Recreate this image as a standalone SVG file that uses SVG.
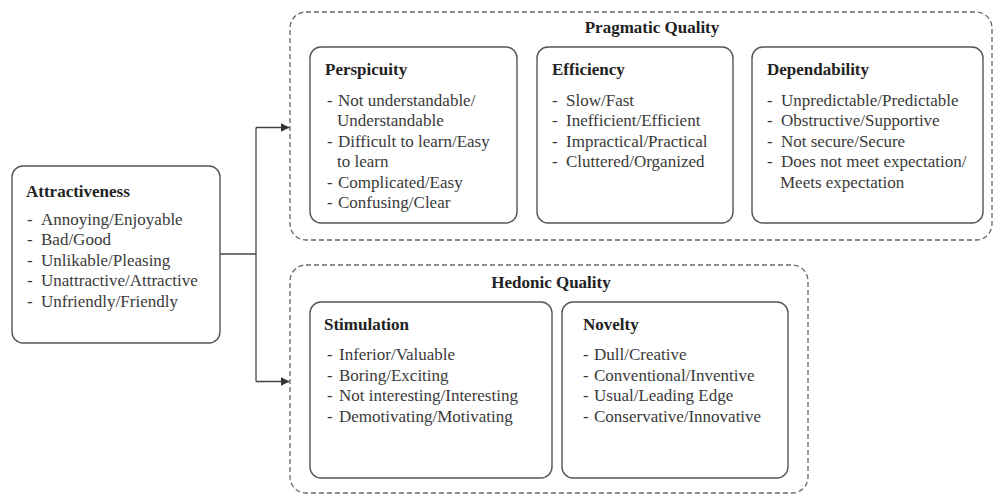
<svg xmlns="http://www.w3.org/2000/svg" width="993" height="496" viewBox="0 0 993 496">
<defs>
<marker id="arr" viewBox="0 0 10 10" refX="10" refY="5" markerWidth="9" markerHeight="9" markerUnits="userSpaceOnUse" orient="auto">
<path d="M0,0 L10,5 L0,10 z" fill="#333"/>
</marker>
<style>
.box{fill:#fff;stroke:#555;stroke-width:1.4}
.grp{fill:none;stroke:#666;stroke-width:1.3;stroke-dasharray:5 3}
.conn{fill:none;stroke:#444;stroke-width:1.3}
text{font-family:"Liberation Serif","Times New Roman",serif;font-size:17px;fill:#3a3a3a}
.t{font-weight:bold;fill:#222}
.c{text-anchor:middle}
</style>
</defs>
<rect width="993" height="496" fill="#fff"/>

<g id="connectors">
<path class="conn" d="M220,254 H256"/>
<path class="conn" d="M256,127.5 V381.5"/>
<path class="conn" d="M256,127.5 H289.5" marker-end="url(#arr)"/>
<path class="conn" d="M256,381.5 H289.5" marker-end="url(#arr)"/>
</g>

<g id="pragmatic">
<rect class="grp" x="290" y="12" width="702" height="228" rx="16"/>
<text class="t c" x="652" y="33">Pragmatic Quality</text>
</g>

<g id="hedonic">
<rect class="grp" x="290" y="265" width="518" height="228" rx="16"/>
<text class="t c" x="551" y="288">Hedonic Quality</text>
</g>

<g id="attractiveness">
<rect class="box" x="12" y="166" width="208" height="177" rx="11"/>
<text class="t" x="26" y="197">Attractiveness</text>
<text x="27" y="224.5">-</text><text x="41" y="224.5">Annoying/Enjoyable</text>
<text x="27" y="245">-</text><text x="41" y="245">Bad/Good</text>
<text x="27" y="265.5">-</text><text x="41" y="265.5">Unlikable/Pleasing</text>
<text x="27" y="286">-</text><text x="41" y="286">Unattractive/Attractive</text>
<text x="27" y="306.5">-</text><text x="41" y="306.5">Unfriendly/Friendly</text>
</g>

<g id="perspicuity">
<rect class="box" x="310" y="47" width="207" height="176" rx="11"/>
<text class="t" x="325" y="75">Perspicuity</text>
<text x="327" y="105.5">-</text><text x="338" y="105.5">Not understandable/</text>
<text x="337" y="126">Understandable</text>
<text x="327" y="146.5">-</text><text x="338" y="146.5">Difficult to learn/Easy</text>
<text x="337" y="167">to learn</text>
<text x="327" y="187.5">-</text><text x="338" y="187.5">Complicated/Easy</text>
<text x="327" y="208">-</text><text x="338" y="208">Confusing/Clear</text>
</g>

<g id="efficiency">
<rect class="box" x="537" y="47" width="196" height="176" rx="11"/>
<text class="t" x="552" y="75">Efficiency</text>
<text x="552" y="105.5">-</text><text x="566" y="105.5">Slow/Fast</text>
<text x="552" y="126">-</text><text x="566" y="126">Inefficient/Efficient</text>
<text x="552" y="146.5">-</text><text x="566" y="146.5">Impractical/Practical</text>
<text x="552" y="167">-</text><text x="566" y="167">Cluttered/Organized</text>
</g>

<g id="dependability">
<rect class="box" x="752" y="47" width="231" height="176" rx="11"/>
<text class="t" x="767" y="75">Dependability</text>
<text x="767" y="105.5">-</text><text x="781" y="105.5">Unpredictable/Predictable</text>
<text x="767" y="126">-</text><text x="781" y="126">Obstructive/Supportive</text>
<text x="767" y="146.5">-</text><text x="781" y="146.5">Not secure/Secure</text>
<text x="767" y="167">-</text><text x="781" y="167">Does not meet expectation/</text>
<text x="780" y="187.5">Meets expectation</text>
</g>

<g id="stimulation">
<rect class="box" x="310" y="302" width="242" height="176" rx="11"/>
<text class="t" x="324" y="330">Stimulation</text>
<text x="327" y="360">-</text><text x="339" y="360">Inferior/Valuable</text>
<text x="327" y="380.5">-</text><text x="339" y="380.5">Boring/Exciting</text>
<text x="327" y="401">-</text><text x="339" y="401">Not interesting/Interesting</text>
<text x="327" y="421.5">-</text><text x="339" y="421.5">Demotivating/Motivating</text>
</g>

<g id="novelty">
<rect class="box" x="562" y="302" width="226" height="176" rx="11"/>
<text class="t" x="583" y="330">Novelty</text>
<text x="583" y="360">-</text><text x="594" y="360">Dull/Creative</text>
<text x="583" y="380.5">-</text><text x="594" y="380.5">Conventional/Inventive</text>
<text x="583" y="401">-</text><text x="594" y="401">Usual/Leading Edge</text>
<text x="583" y="421.5">-</text><text x="594" y="421.5">Conservative/Innovative</text>
</g>
</svg>
